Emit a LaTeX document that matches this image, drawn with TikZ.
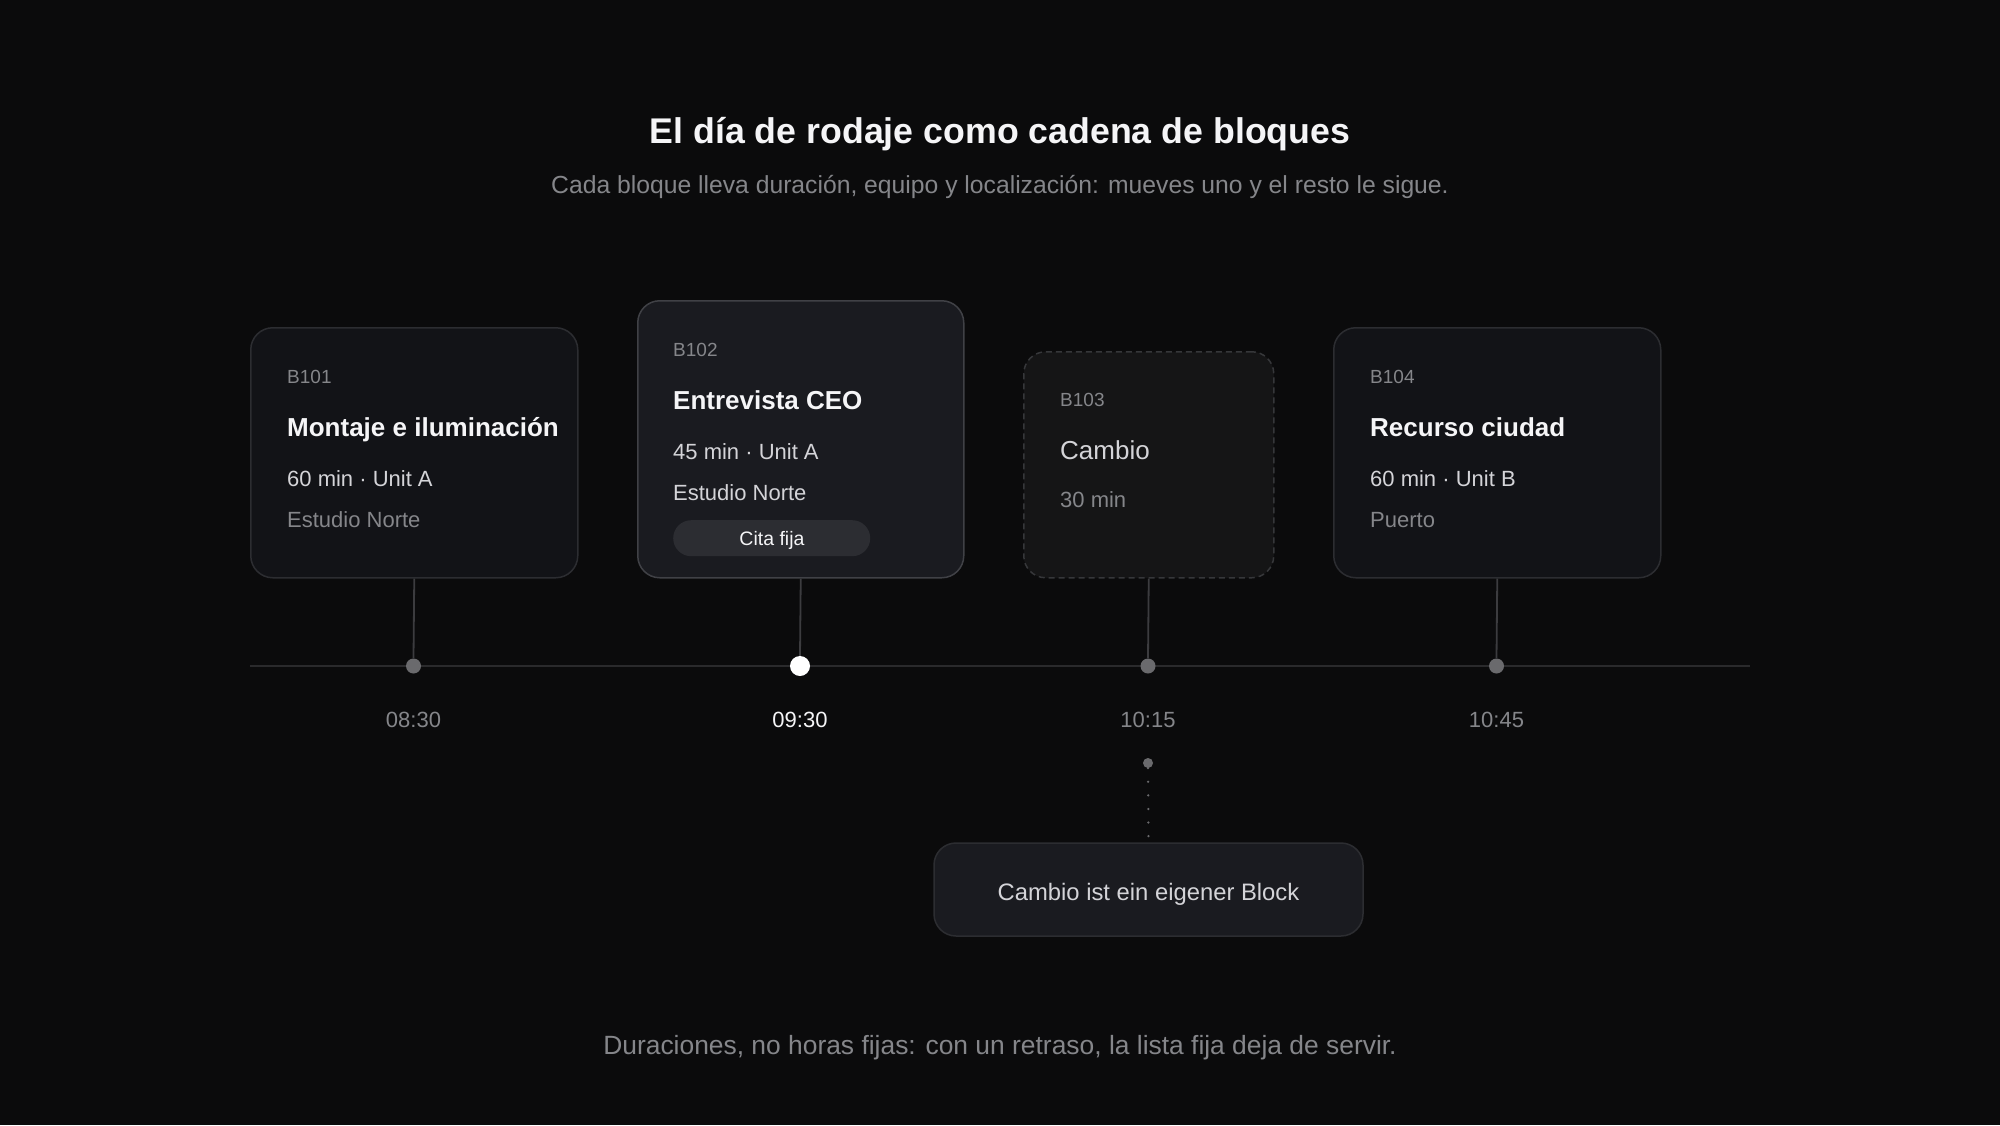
\documentclass[tikz,border=0pt]{standalone}
\usepackage{fontspec}
\setmainfont{Liberation Sans}
\definecolor{bg}{HTML}{0B0B0C}
\definecolor{cardfill}{HTML}{121317}
\definecolor{cardline}{HTML}{2C2D31}
\definecolor{hifill}{HTML}{1A1B20}
\definecolor{hiline}{HTML}{404146}
\definecolor{chfill}{HTML}{151516}
\definecolor{chline}{HTML}{36373A}
\definecolor{pillfill}{HTML}{2C2D32}
\definecolor{txtw}{HTML}{F5F5F7}
\definecolor{txtl}{HTML}{D4D4D8}
\definecolor{txtg}{HTML}{85868A}
\definecolor{axis}{HTML}{2A2A2C}
\definecolor{connc}{HTML}{3C3C3F}
\definecolor{dotc}{HTML}{6A6A6D}
\begin{document}
\begin{tikzpicture}[x=1pt,y=-1pt,
  card/.style={draw=cardline, fill=cardfill, line width=1.5pt, rounded corners=22pt, anchor=north west, inner sep=0pt},
  hicard/.style={card, draw=hiline, fill=hifill},
  chcard/.style={card, draw=chline, fill=chfill, dash pattern=on 6pt off 4pt},
  idtxt/.style={anchor=base west, inner sep=0pt, text=txtg, font=\fontsize{19}{23}\selectfont},
  ttl/.style={anchor=base west, inner sep=0pt, text=txtw, font=\fontsize{26}{31}\selectfont\bfseries},
  ln1/.style={anchor=base west, inner sep=0pt, text=txtl, font=\fontsize{22}{26}\selectfont},
  ln2/.style={anchor=base west, inner sep=0pt, text=txtg, font=\fontsize{22}{26}\selectfont},
  dot/.style={circle, fill=dotc, minimum size=15pt, inner sep=0pt},
  hidot/.style={circle, fill=white, minimum size=20pt, inner sep=0pt},
  conn/.style={draw=connc, line width=1.8pt},
  tlab/.style={anchor=base, inner sep=0pt, text=txtg, font=\fontsize{22}{26}\selectfont}
]
\useasboundingbox[fill=bg] (0,0) rectangle (2000,1125);

% title
\node[anchor=base, inner sep=0pt, text=txtw, font=\fontsize{35.7}{43}\selectfont\bfseries] (title) at (1000,143) {El día de rodaje como cadena de bloques};
\node[anchor=base, inner sep=0pt, text=txtg, font=\fontsize{24.7}{30}\selectfont] (sub) at (1000,193) {Cada bloque lleva duración, equipo y localización: mueves uno y el resto le sigue.};

% timeline
\coordinate (tl) at (250,666);
\coordinate (tr) at (1750,666);
\draw[draw=axis, line width=2.5pt] (tl) -- (tr);

% cards
\node[card, minimum width=327pt, minimum height=250pt] (b1) at (250,327) {};
\node[hicard, minimum width=326pt, minimum height=277pt] (b2) at (637,300) {};
\node[chcard, minimum width=250pt, minimum height=226pt] (b3) at (1023,351) {};
\node[card, minimum width=327pt, minimum height=250pt] (b4) at (1333,327) {};

% card texts
\node[idtxt] (b1id) at (287,383) {B101};
\node[ttl] (b1t) at (287,436.5) {Montaje e iluminación};
\node[ln1] (b1a) at (287,486) {60 min · Unit A};
\node[ln2] (b1b) at (287,527) {Estudio Norte};

\node[idtxt] (b2id) at (673,356) {B102};
\node[ttl] (b2t) at (673,409.5) {Entrevista CEO};
\node[ln1] (b2a) at (673,459) {45 min · Unit A};
\node[ln1] (b2b) at (673,500) {Estudio Norte};
\node[fill=pillfill, rounded corners=18pt, minimum width=197pt, minimum height=36pt, inner sep=0pt, anchor=north west] (pill) at (673,520) {};
\node[anchor=base, text=txtw, inner sep=0pt, font=\fontsize{19.5}{23}\selectfont] (pillt) at (772,545) {Cita fija};

\node[idtxt] (b3id) at (1060,406) {B103};
\node[anchor=base west, inner sep=0pt, text=txtl, font=\fontsize{26}{31}\selectfont] (b3t) at (1060,459.5) {Cambio};
\node[ln2] (b3a) at (1060,507) {30 min};

\node[idtxt] (b4id) at (1370,383) {B104};
\node[ttl] (b4t) at (1370,436.5) {Recurso ciudad};
\node[ln1] (b4a) at (1370,486) {60 min · Unit B};
\node[ln2] (b4b) at (1370,527) {Puerto};

% dots and connectors
\node[dot] (d1) at (413.5,666) {};
\node[hidot] (d2) at (800,666) {};
\node[dot] (d3) at (1148,666) {};
\node[dot] (d4) at (1496.5,666) {};
\draw[conn] (b1.south) -- (d1.north);
\draw[conn] (b2.south) -- (d2.north);
\draw[conn] (b3.south) -- (d3.north);
\draw[conn] (b4.south) -- (d4.north);

% time labels
\node[tlab] (t1) at (413.5,727) {08:30};
\node[tlab, text=txtw] (t2) at (800,727) {09:30};
\node[tlab] (t3) at (1148,727) {10:15};
\node[tlab] (t4) at (1496.5,727) {10:45};

% callout
\node[circle, fill=dotc, minimum size=10pt, inner sep=0pt] (d5) at (1148,763) {};
\node[draw=cardline, fill=hifill, line width=1.5pt, rounded corners=22pt, minimum width=429pt, minimum height=93pt, inner sep=0pt] (call) at (1148.5,889.5) {};
\node[anchor=base, text=txtl, inner sep=0pt, font=\fontsize{23.8}{28}\selectfont] (callt) at (1148.5,900) {Cambio ist ein eigener Block};
\draw[draw=dotc, line width=2.5pt, line cap=round, dash pattern=on 0pt off 13.6pt] (d5.south) -- (call.north);

% footer
\node[anchor=base, inner sep=0pt, text=txtg, font=\fontsize{26.4}{31}\selectfont] (foot) at (1000,1054) {Duraciones, no horas fijas: con un retraso, la lista fija deja de servir.};
\end{tikzpicture}
\end{document}
